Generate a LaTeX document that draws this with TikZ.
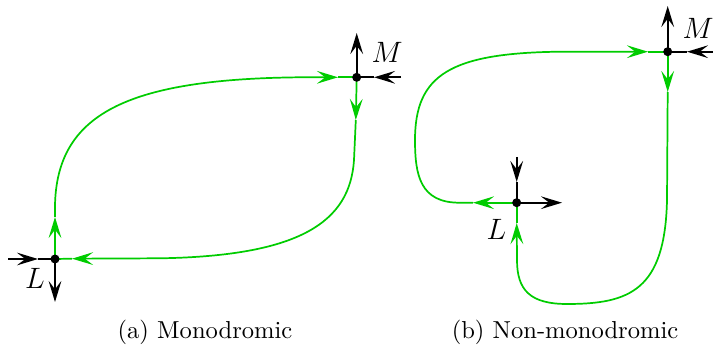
\documentclass[tikz,border=0pt]{standalone}
\usetikzlibrary{arrows.meta}
\definecolor{grn}{RGB}{0,204,0}
\begin{document}
\begin{tikzpicture}[x=0.4073pt,y=-0.4073pt,
 tip/.style={-{Stealth[length=8.6pt,width=5.2pt,inset=3.4pt]}},
 gl/.style={grn,line width=0.7pt},
 bl/.style={black,line width=0.7pt},
 lab/.style={font=\fontsize{13}{15}\selectfont,inner sep=0pt},
 captext/.style={font=\normalsize,inner sep=0pt}]
\useasboundingbox (0,0) rectangle (713,348);
% ---------- left panel ----------
\coordinate (L1) at (55,259);
\coordinate (M1) at (356.7,77.3);
\coordinate (a1) at (8,259);
\coordinate (a1t) at (38,259);
\coordinate (a2) at (55,302);
\coordinate (a3) at (356.7,33);
\coordinate (a4) at (401,77.3);
\coordinate (a4t) at (374,77.3);
\coordinate (g1) at (55,217);
\coordinate (g2) at (338,77.3);
\coordinate (g3) at (355.8,120);
\coordinate (g4) at (72,258.7);
\draw[bl,tip] (a1) -- (a1t);
\draw[bl] (a1t) -- (L1);
\draw[bl,tip] (L1) -- (a2);
\draw[bl,tip] (M1) -- (a3);
\draw[bl,tip] (a4) -- (a4t);
\draw[bl] (a4t) -- (M1);
\draw[gl,tip] (L1) -- (g1);
\draw[gl,tip] (g1) -- (55,205) .. controls (57,115) and (125,79) .. (300,77.3) -- (g2);
\draw[gl] (g2) -- (M1);
\draw[gl,tip] (M1) -- (g3);
\draw[gl,tip] (g3) -- (354,160) .. controls (350,222) and (300,256) .. (160,258.3) -- (g4);
\draw[gl] (g4) -- (L1);
\fill (L1) circle (4.5);
\fill (M1) circle (4.5);
\node[lab] (Llab1) at (35,278) {$L$};
\node[lab] (Mlab1) at (387,52) {$M$};
% ---------- right panel ----------
\coordinate (L2) at (516.7,202.7);
\coordinate (M2) at (667.7,51.7);
\coordinate (b1) at (667.7,6);
\coordinate (b2) at (713,51.7);
\coordinate (b2t) at (687,51.7);
\coordinate (b3) at (516.7,157);
\coordinate (b3t) at (516.7,182);
\coordinate (b4) at (562,202.7);
\coordinate (h1) at (473,202.7);
\coordinate (h2) at (648,51.7);
\coordinate (h3) at (667.7,92);
\coordinate (h4) at (516.7,223);
\draw[bl,tip] (M2) -- (b1);
\draw[bl,tip] (b2) -- (b2t);
\draw[bl] (b2t) -- (M2);
\draw[bl,tip] (b3) -- (b3t);
\draw[bl] (b3t) -- (L2);
\draw[bl,tip] (L2) -- (b4);
\draw[gl,tip] (L2) -- (h1);
\draw[gl,tip] (h1) -- (460,202.7) .. controls (420,203) and (415,175) .. (415,140) .. controls (415,75) and (450,53) .. (560,51.7) -- (h2);
\draw[gl] (h2) -- (M2);
\draw[gl,tip] (M2) -- (h3);
\draw[gl,tip] (h3) -- (667,200) .. controls (665,290) and (630,304) .. (567,304) .. controls (530,304) and (517,290) .. (517,260) -- (h4);
\draw[gl] (h4) -- (L2);
\fill (L2) circle (4.5);
\fill (M2) circle (4.5);
\node[lab] (Llab2) at (496.5,229.5) {$L$};
\node[lab] (Mlab2) at (698,28) {$M$};
% ---------- captions ----------
\node[captext] (capa) at (205,332) {(a) Monodromic};
\node[captext] (capb) at (565,332) {(b) Non-monodromic};
\end{tikzpicture}
\end{document}
